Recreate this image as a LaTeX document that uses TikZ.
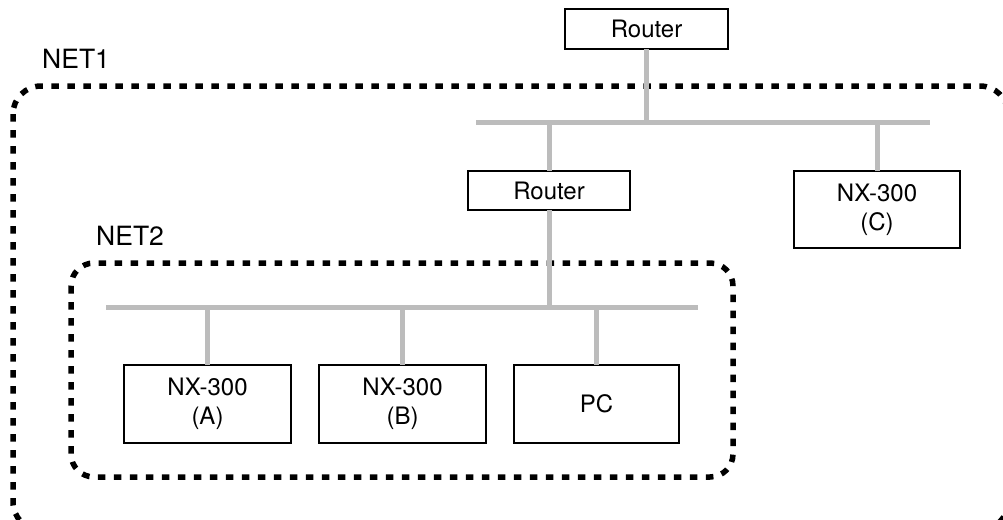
\documentclass[tikz,border=0pt]{standalone}
\usepackage{fontspec}
\setmainfont{TeX Gyre Heros}
\definecolor{wiregray}{RGB}{188,188,188}
\tikzset{
  box/.style={draw=black, line width=1.2pt, fill=white, inner sep=0pt, outer sep=0pt,
    align=center, font=\fontsize{24}{29}\selectfont},
  wire/.style={draw=wiregray, line width=5pt},
  netline/.style={draw=black, line width=5.5pt, dash pattern=on 7.5pt off 8.5pt},
  netlabel/.style={anchor=base west, inner sep=0pt, font=\fontsize{26.5}{31}\selectfont}
}
\begin{document}
\begin{tikzpicture}[x=1pt,y=-1pt]
\useasboundingbox (0,0) rectangle (1003,519);
\clip (0,0) rectangle (1003,519);
% networks
\draw[netline, rounded corners=28pt] (13,86) rectangle (1008,530);
\draw[netline, rounded corners=23pt] (71,263) rectangle (733,477);
\node[netlabel] (net1) at (42,69) {NET1};
\node[netlabel] (net2) at (96,245) {NET2};
% bus end points
\coordinate (b1l) at (476,122);
\coordinate (b1r) at (930,122);
\coordinate (b2l) at (106,307);
\coordinate (b2r) at (698,307);
% nodes
\node[box, minimum width=163pt, minimum height=40pt] (r1) at (646.5,29) {Router};
\node[box, minimum width=162pt, minimum height=39pt] (r2) at (549,190.5) {Router};
\node[box, minimum width=166pt, minimum height=77pt] (nxc) at (877,209.5) {NX-300\\(C)};
\node[box, minimum width=167pt, minimum height=78pt] (nxa) at (207.5,404) {NX-300\\(A)};
\node[box, minimum width=167pt, minimum height=78pt] (nxb) at (402.5,404) {NX-300\\(B)};
\node[box, minimum width=165pt, minimum height=78pt] (pc) at (596.5,404) {PC};
% wires
\draw[wire] (b1l) -- (b1r);
\draw[wire] (b2l) -- (b2r);
\draw[wire] (r1.south) -- (r1.south |- b1l);
\draw[wire] (r2.north) -- (r2.north |- b1l);
\draw[wire] (nxc.north) -- (nxc.north |- b1l);
\draw[wire] (r2.south) -- (r2.south |- b2l);
\draw[wire] (nxa.north) -- (nxa.north |- b2l);
\draw[wire] (nxb.north) -- (nxb.north |- b2l);
\draw[wire] (pc.north) -- (pc.north |- b2l);
\end{tikzpicture}
\end{document}
